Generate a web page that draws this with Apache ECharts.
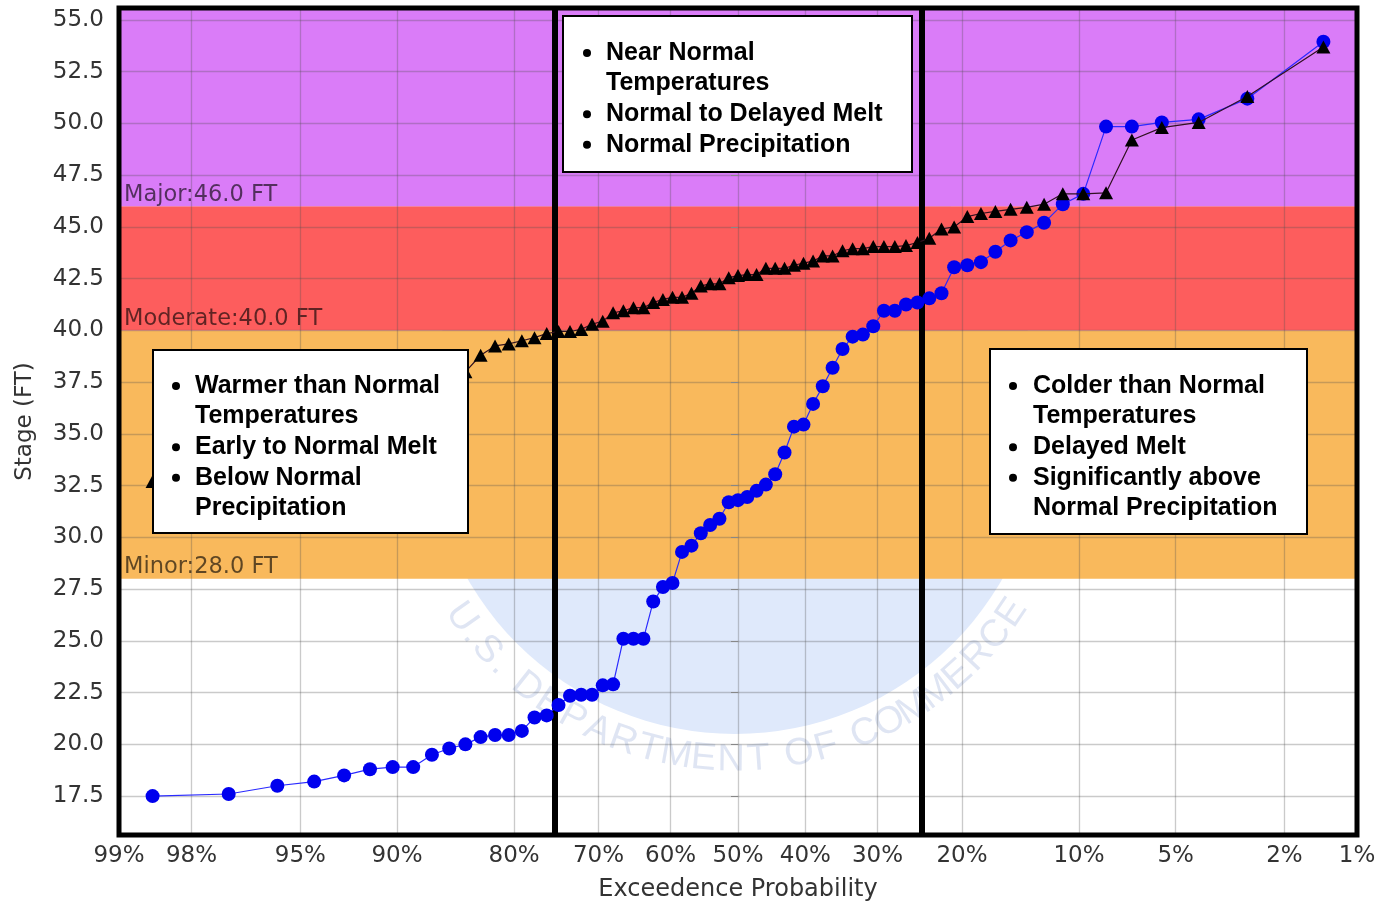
<!DOCTYPE html>
<html><head><meta charset="utf-8">
<script src="https://cdn.jsdelivr.net/npm/echarts@6/dist/echarts.min.js"></script>
<style>html,body{margin:0;padding:0;background:#fff}#c{width:1379px;height:903px}</style>
</head><body><div id="c"></div>
<script>
// ---------------- data ----------------
// exceedance probability (%) of each ranked trace (plotting positions)
const exceedance = [98.61,97.22,95.83,94.44,93.06,91.67,90.28,88.89,87.50,86.11,
  84.72,83.33,81.94,80.56,79.17,77.78,76.39,75.00,73.61,72.22,
  70.83,69.44,68.06,66.67,65.28,63.89,62.50,61.11,59.72,58.33,
  56.94,55.56,54.17,52.78,51.39,50.00,48.61,47.22,45.83,44.44,
  43.06,41.67,40.28,38.89,37.50,36.11,34.72,33.33,31.94,30.56,
  29.17,27.78,26.39,25.00,23.61,22.22,20.83,19.44,18.06,16.67,
  15.28,13.89,12.50,11.11,9.72,8.33,6.94,5.56,4.17,2.78,1.39];
// blue circles (stage, ft)
const blueStage = [17.5,17.6,18.0,18.2,18.5,18.8,18.9,18.9,19.5,19.8,
  20.0,20.35,20.45,20.45,20.65,21.3,21.4,21.9,22.35,22.4,
  22.4,22.85,22.9,25.1,25.1,25.1,26.9,27.6,27.8,29.3,
  29.6,30.2,30.6,30.9,31.7,31.8,31.95,32.25,32.55,33.05,
  34.1,35.35,35.45,36.45,37.3,38.2,39.1,39.7,39.8,40.2,
  40.95,40.95,41.25,41.35,41.55,41.8,43.05,43.15,43.3,43.8,
  44.35,44.75,45.2,46.1,46.6,49.85,49.85,50.05,50.2,51.2,53.95];
// black triangles (stage, ft)
const blackStage = [32.7,34.2,35.0,35.5,36.0,36.4,36.8,37.1,37.4,37.7,
  38.0,38.8,39.25,39.35,39.5,39.65,39.85,39.95,39.95,40.05,
  40.3,40.45,40.85,40.95,41.1,41.1,41.35,41.5,41.6,41.6,
  41.8,42.15,42.25,42.25,42.55,42.65,42.7,42.7,43.0,43.0,
  43.0,43.15,43.25,43.35,43.6,43.6,43.85,43.95,43.95,44.05,
  44.05,44.05,44.1,44.25,44.45,44.9,45.0,45.5,45.65,45.75,
  45.85,45.95,46.1,46.6,46.6,46.65,49.2,49.8,50.05,51.3,53.7];
const tickProbs = [99,98,95,90,80,70,60,50,40,30,20,10,5,2,1];
const tickLabels = ['99%','98%','95%','90%','80%','70%','60%','50%','40%','30%','20%','10%','5%','2%','1%'];
const yTicks = [17.5,20,22.5,25,27.5,30,32.5,35,37.5,40,42.5,45,47.5,50,52.5,55];
const bandNames = ['Minor','Moderate','Major'];
const bandFrom = [28,40,46];
const bandTo = [40,46,null];
const bandColors = ['#f9b95c','#fd5d5d','#da7cf8'];
const scenarioBounds = [75.5,24.6]; // exceedance % of the vertical divider lines
const box1Lines = [[true,'Warmer than Normal'],[false,'Temperatures'],[true,'Early to Normal Melt'],[true,'Below Normal'],[false,'Precipitation']];
const box2Lines = [[true,'Near Normal'],[false,'Temperatures'],[true,'Normal to Delayed Melt'],[true,'Normal Precipitation']];
const box3Lines = [[true,'Colder than Normal'],[false,'Temperatures'],[true,'Delayed Melt'],[true,'Significantly above'],[false,'Normal Precipitation']];
const sealText = 'U.S. DEPARTMENT OF COMMERCE';

// ---------------- helpers ----------------
function qnorm(p){
  const a=[-3.969683028665376e+01,2.209460984245205e+02,-2.759285104469687e+02,1.383577518672690e+02,-3.066479806614716e+01,2.506628277459239e+00];
  const b=[-5.447609879822406e+01,1.615858368580409e+02,-1.556989798598866e+02,6.680131188771972e+01,-1.328068155288572e+01];
  const c=[-7.784894002430293e-03,-3.223964580411365e-01,-2.400758277161838e+00,-2.549732539343734e+00,4.374664141464968e+00,2.938163982698783e+00];
  const d=[7.784695709041462e-03,3.224671290700398e-01,2.445134137142996e+00,3.754408661907416e+00];
  const pl=0.02425, ph=1-pl; let q,r;
  if(p<pl){q=Math.sqrt(-2*Math.log(p));return (((((c[0]*q+c[1])*q+c[2])*q+c[3])*q+c[4])*q+c[5])/((((d[0]*q+d[1])*q+d[2])*q+d[3])*q+1);}
  if(p<=ph){q=p-0.5;r=q*q;return (((((a[0]*r+a[1])*r+a[2])*r+a[3])*r+a[4])*r+a[5])*q/(((((b[0]*r+b[1])*r+b[2])*r+b[3])*r+b[4])*r+1);}
  q=Math.sqrt(-2*Math.log(1-p));return -(((((c[0]*q+c[1])*q+c[2])*q+c[3])*q+c[4])*q+c[5])/((((d[0]*q+d[1])*q+d[2])*q+d[3])*q+1);
}
const xOf = e => qnorm(1 - e/100);
const xTickVals = tickProbs.map(xOf);
const xmin = xTickVals[0], xmax = xTickVals[xTickVals.length-1];
const ymin = 15.62, ymax = 55.58;

const GRID = {left:119, top:8, right:22, bottom:68};
const plotW = 1379-GRID.left-GRID.right, plotH = 903-GRID.top-GRID.bottom;

// ---------------- graphics (annotations) ----------------
const graphics = [];
// seal watermark
const sc = {x:735, y:426};
graphics.push({type:'circle', z:-10, silent:true, shape:{cx:sc.x, cy:sc.y, r:308}, style:{fill:'#dfe9fb'}});
(function(){
  const w = sealText.split('').map(ch => (ch==='.'||ch===' ')?0.5:1);
  const pos=[]; let acc=0; w.forEach((wi)=>{pos.push(acc+wi/2); acc+=wi;});
  const a0=145, a1=34, R=334;
  sealText.split('').forEach((ch,k)=>{
    if(ch===' ') return;
    const th = a0 - (pos[k]-pos[0])/(pos[pos.length-1]-pos[0])*(a0-a1);
    const t = th*Math.PI/180;
    graphics.push({type:'text', z:-9, silent:true, x:sc.x+R*Math.cos(t), y:sc.y+R*Math.sin(t),
      rotation:(90-th)*Math.PI/180,
      style:{text:ch, font:'38px "Liberation Sans"', fill:'rgba(150,170,215,0.30)', textAlign:'center', textVerticalAlign:'middle'}});
  });
})();
// plot border
graphics.push({type:'rect', z:100, silent:true, shape:{x:GRID.left, y:GRID.top, width:plotW, height:plotH}, style:{fill:null, stroke:'#000', lineWidth:5}});
// text boxes
function addBox(rect, lines, y0, bx, tx){
  graphics.push({type:'rect', z:100, silent:true, shape:rect, style:{fill:'#fff', stroke:'#000', lineWidth:2}});
  lines.forEach((ln,i)=>{
    const y = y0 + i*30.6;
    if(ln[0]) graphics.push({type:'circle', z:101, silent:true, shape:{cx:bx, cy:y, r:4}, style:{fill:'#000'}});
    graphics.push({type:'text', z:101, silent:true, x:tx, y:y, style:{text:ln[1], font:'bold 25px "Liberation Sans"', fill:'#000', textAlign:'left', textVerticalAlign:'middle'}});
  });
}
addBox({x:153,y:350,width:315,height:183}, box1Lines, 386, 176, 195);
addBox({x:563,y:16,width:349,height:156}, box2Lines, 53, 587, 606);
addBox({x:990,y:349,width:317,height:185}, box3Lines, 386, 1013, 1033);

// ---------------- chart ----------------
const chart = echarts.init(document.getElementById('c'));
const labelFont = {fontFamily:'DejaVu Sans', fontSize:23, color:'#333'};
chart.setOption({
  animation:false,
  backgroundColor:'#fff',
  grid:{left:GRID.left, top:GRID.top, right:GRID.right, bottom:GRID.bottom, containLabel:false, outerBoundsMode:'none'},
  xAxis:{type:'value', min:xmin, max:xmax, z:3,
    name:'Exceedence Probability', nameLocation:'middle', nameGap:43, nameTextStyle:{fontFamily:'DejaVu Sans', fontSize:24, color:'#333'},
    axisLine:{show:false}, axisTick:{show:false, customValues:xTickVals},
    axisLabel:Object.assign({customValues:xTickVals, margin:10, formatter:function(v){
      let bi=0,bd=1e9; xTickVals.forEach((t,i)=>{const dd=Math.abs(t-v); if(dd<bd){bd=dd;bi=i;}}); return tickLabels[bi];}}, labelFont),
    splitLine:{show:true, lineStyle:{color:'rgba(80,80,80,0.3)', width:1.3}}},
  yAxis:{type:'value', min:ymin, max:ymax, z:3,
    name:'Stage (FT)', nameLocation:'middle', nameGap:82, nameTextStyle:{fontFamily:'DejaVu Sans', fontSize:23, color:'#333'},
    axisLine:{show:false}, axisTick:{show:true, length:7, customValues:yTicks, lineStyle:{color:'#888'}},
    axisLabel:Object.assign({customValues:yTicks, margin:15, formatter:v=>v.toFixed(1)}, labelFont),
    splitLine:{show:true, lineStyle:{color:'rgba(80,80,80,0.3)', width:1.3}}},
  graphic:{elements:graphics},
  series:[
    {type:'line', name:'bands', data:[], z:1, silent:true,
      markArea:{silent:true, data: bandNames.map((n,i)=>[
        {xAxis:xmin, yAxis:bandFrom[i], itemStyle:{color:bandColors[i]},
          label:{show:true, position:'insideBottomLeft', distance:0, padding:[0,0,0,5], formatter:n+':'+bandFrom[i].toFixed(1)+' FT',
            fontFamily:'DejaVu Sans', fontSize:22.5, color:'rgba(0,0,0,0.62)'}},
        {xAxis:xmax, yAxis:(bandTo[i]===null?ymax:bandTo[i])}])}},
    {type:'line', name:'Blue traces', z:5, data: exceedance.map((e,i)=>[xOf(e), blueStage[i]]),
      symbol:'circle', symbolSize:14, lineStyle:{color:'#2a2aff', width:1.2}, itemStyle:{color:'#0000ee'}},
    {type:'line', name:'Black traces', z:6, data: exceedance.map((e,i)=>[xOf(e), blackStage[i]]),
      symbol:'triangle', symbolSize:[14,13], lineStyle:{color:'#301020', width:1.2}, itemStyle:{color:'#000'}},
    {type:'line', name:'dividers', data:[], z:8, silent:true,
      markLine:{silent:true, symbol:'none', label:{show:false}, lineStyle:{color:'#000', width:6, type:'solid'},
        data: scenarioBounds.map(p=>({xAxis:xOf(p)}))}}
  ]
});
</script></body></html>
